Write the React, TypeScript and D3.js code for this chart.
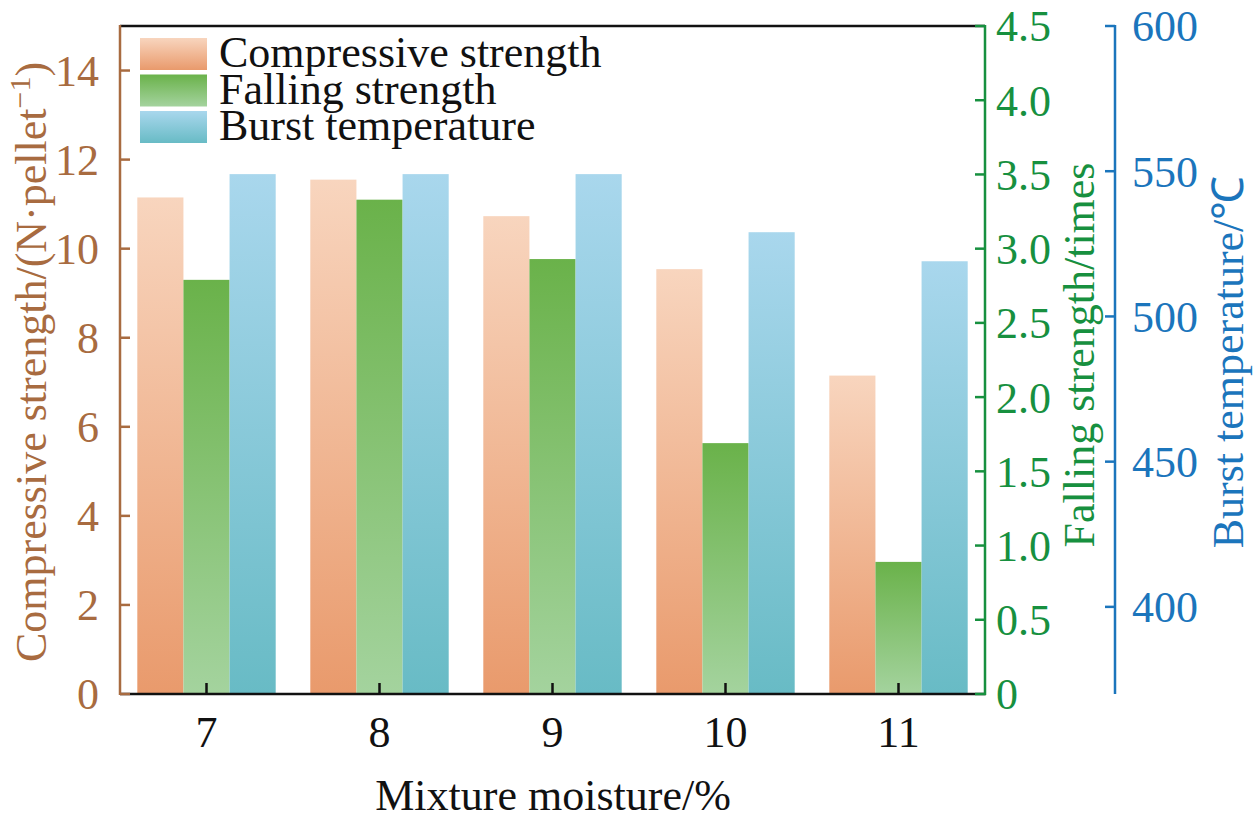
import React from "react";
import * as d3 from "d3";

const categories = ["7", "8", "9", "10", "11"];
const compressive = [11.15, 11.55, 10.73, 9.54, 7.15];
const falling = [2.79, 3.33, 2.93, 1.69, 0.89];
const burst = [549, 549, 549, 529, 519];
const leftTicks = [0, 2, 4, 6, 8, 10, 12, 14];
const greenTicks = [0, 0.5, 1.0, 1.5, 2.0, 2.5, 3.0, 3.5, 4.0, 4.5];
const blueTicks = [400, 450, 500, 550, 600];
const seriesNames = ["Compressive strength", "Falling strength", "Burst temperature"];

const W = 1260, H = 823;
const L = 120, R = 985, T = 26, B = 694;
const BLUE_X = 1115;
const FONT = "'Liberation Serif', 'Times New Roman', serif";
const BROWN = "#a86b40";
const GREEN = "#17903f";
const BLUE = "#1b75bc";

const grads = [
  { id: "gOrange", top: "#f8d5be", bottom: "#e99a6c" },
  { id: "gGreen", top: "#6ab24a", bottom: "#a4d39e" },
  { id: "gBlue", top: "#a9d7ed", bottom: "#68bbc5" },
];

export default function App() {
  const x = d3.scaleBand<string>().domain(categories).range([L, R]).paddingInner(0.2).paddingOuter(0.1);
  const xs = d3.scaleBand<number>().domain([0, 1, 2]).range([0, x.bandwidth()]);
  const yL = d3.scaleLinear().domain([0, 15]).range([B, T]);
  const yG = d3.scaleLinear().domain([0, 4.5]).range([B, T]);
  const yB = d3.scaleLinear().domain([370, 600]).range([B, T]);
  const scales = [yL, yG, yB];
  const series = [compressive, falling, burst];
  const fs = 44;

  return (
    <svg width={W} height={H} style={{ display: "block", position: "absolute", left: 0, top: 0, background: "#fff" }} fontFamily={FONT}>
      <defs>
        {grads.map((g) => (
          <linearGradient key={g.id} id={g.id} x1="0" y1="0" x2="0" y2="1">
            <stop offset="0" stopColor={g.top} />
            <stop offset="1" stopColor={g.bottom} />
          </linearGradient>
        ))}
      </defs>
      <rect width={W} height={H} fill="#fff" />
      {/* bars */}
      {categories.map((c, i) => (
        <g key={c}>
          {series.map((s, k) => {
            const y = scales[k](s[i]);
            return (
              <rect key={k} x={(x(c) as number) + (xs(k) as number)} y={y} width={xs.bandwidth()} height={B - y} fill={`url(#${grads[k].id})`} />
            );
          })}
        </g>
      ))}
      {/* frame lines */}
      <line x1={L} x2={R} y1={T} y2={T} stroke="#111" strokeWidth={2.5} />
      <line x1={L} x2={R + 1} y1={B} y2={B} stroke="#111" strokeWidth={2.5} />
      <line x1={L} x2={L} y1={T - 1} y2={B + 1} stroke={BROWN} strokeWidth={2.5} />
      <line x1={R} x2={R} y1={T - 1} y2={B + 1} stroke={GREEN} strokeWidth={2.5} />
      <line x1={BLUE_X} x2={BLUE_X} y1={T - 1} y2={B} stroke={BLUE} strokeWidth={2.5} />
      {/* x ticks */}
      {categories.map((c) => {
        const cx = (x(c) as number) + x.bandwidth() / 2;
        return (
          <g key={c}>
            <line x1={cx} x2={cx} y1={B} y2={B - 11} stroke="#111" strokeWidth={2.5} />
            <text x={cx} y={747} textAnchor="middle" fontSize={fs} fill="#111">{c}</text>
          </g>
        );
      })}
      {/* left ticks */}
      {leftTicks.map((t) => (
        <g key={t}>
          <line x1={L} x2={L + 10} y1={yL(t)} y2={yL(t)} stroke={BROWN} strokeWidth={2.5} />
          <text x={99} y={yL(t)} dy="0.35em" textAnchor="end" fontSize={fs} fill={BROWN}>{t}</text>
        </g>
      ))}
      {/* green ticks */}
      {greenTicks.map((t) => (
        <g key={t}>
          <line x1={R} x2={R - 10} y1={yG(t)} y2={yG(t)} stroke={GREEN} strokeWidth={2.5} />
          <text x={996} y={yG(t)} dy="0.35em" textAnchor="start" fontSize={fs} fill={GREEN}>{t === 0 ? "0" : t.toFixed(1)}</text>
        </g>
      ))}
      {/* blue ticks */}
      {blueTicks.map((t) => (
        <g key={t}>
          <line x1={BLUE_X} x2={BLUE_X - 10} y1={yB(t)} y2={yB(t)} stroke={BLUE} strokeWidth={2.5} />
          <text x={1132} y={yB(t)} dy="0.35em" textAnchor="start" fontSize={fs} fill={BLUE}>{t}</text>
        </g>
      ))}
      {/* axis titles */}
      <text x={553} y={810} textAnchor="middle" fontSize={fs} fill="#111">Mixture moisture/%</text>
      <text transform="translate(46,362) rotate(-90)" textAnchor="middle" fontSize={fs} fill={BROWN}>
        Compressive strength/(N·pellet<tspan fontSize={30} dy={-16}>−1</tspan><tspan dy={16}>)</tspan>
      </text>
      <text transform="translate(1094,355) rotate(-90)" textAnchor="middle" fontSize={fs} fill={GREEN}>Falling strength/times</text>
      <text transform="translate(1243,362) rotate(-90)" textAnchor="middle" fontSize={fs} fill={BLUE}>Burst temperature/℃</text>
      {/* legend */}
      {seriesNames.map((n, k) => {
        const ys = [38, 74.5, 111][k];
        return (
          <g key={n}>
            <rect x={140} y={ys} width={67} height={32} fill={`url(#${grads[k].id})`} />
            <text x={219} y={ys + 29} fontSize={fs} fill="#111">{n}</text>
          </g>
        );
      })}
    </svg>
  );
}
